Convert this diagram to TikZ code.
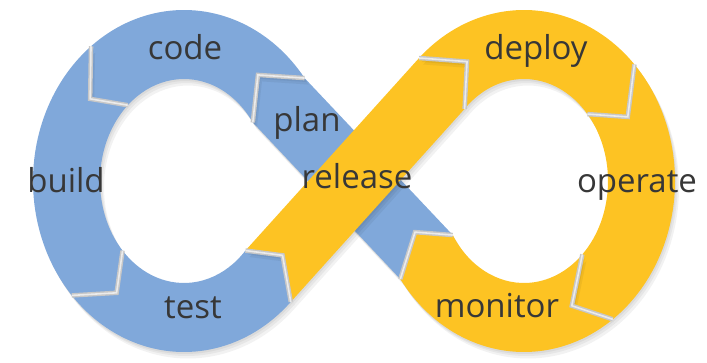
\documentclass[tikz,border=0pt]{standalone}
\usepackage{fontspec}
\setmainfont{Open Sans}
\usepackage{tikz}
\usetikzlibrary{calc}
\definecolor{devblue}{RGB}{128,168,218}
\definecolor{devyellow}{RGB}{253,195,35}
\definecolor{devtext}{RGB}{55,55,55}
\tikzstyle{seg}=[preaction={fill=black, opacity=.05, transform canvas={xshift=1pt, yshift=-2pt}},
                 preaction={fill=black, opacity=.05, transform canvas={xshift=2.5pt, yshift=-4pt}},
                 preaction={fill=black, opacity=.05, transform canvas={xshift=4pt, yshift=-6.5pt}}]
\tikzstyle{seam}=[draw=black!22, line width=4.5pt, line join=miter, postaction={draw=white!92!black, line width=1.6pt}]
\tikzstyle{word}=[text=devtext, font=\fontsize{33}{33}\selectfont, inner sep=0pt, anchor=base]

\begin{document}
\begin{tikzpicture}[x=1pt, y=1pt]
    \useasboundingbox (0,0) rectangle (707,362);
    \coordinate (L) at (184,181);
    \coordinate (R) at (524,181);

    \coordinate (s1o) at ($(L)+(128:151 and 171)$);
    \coordinate (s1a) at ($(L)+(143:117.5 and 136.5)$);
    \coordinate (s1i) at ($(L)+(132:84 and 102)$);
    \coordinate (s2o) at ($(L)+(222:151 and 171)$);
    \coordinate (s2a) at ($(L)+(235:117.5 and 136.5)$);
    \coordinate (s2i) at ($(L)+(223:84 and 102)$);
    \coordinate (s3o) at ($(L)+(315:151 and 171)$);
    \coordinate (s3a) at ($(L)+(327:117.5 and 136.5)$);
    \coordinate (s3i) at ($(L)+(317:84 and 102)$);
    \coordinate (s4o) at ($(L)+(37:151 and 171)$);
    \coordinate (s4a) at ($(L)+(51:117.5 and 136.5)$);
    \coordinate (s4i) at ($(L)+(35:84 and 102)$);

    \coordinate (s5o) at ($(R)+(134:151 and 171)$);
    \coordinate (s5a) at ($(R)+(119:117.5 and 136.5)$);
    \coordinate (s5i) at ($(R)+(135:84 and 102)$);
    \coordinate (s6o) at ($(R)+(43:151 and 171)$);
    \coordinate (s6a) at ($(R)+(28:117.5 and 136.5)$);
    \coordinate (s6i) at ($(R)+(41:84 and 102)$);
    \coordinate (s7o) at ($(R)+(-54:151 and 171)$);
    \coordinate (s7a) at ($(R)+(-66:117.5 and 136.5)$);
    \coordinate (s7i) at ($(R)+(-46:84 and 102)$);
    \coordinate (s8o) at ($(R)+(215:151 and 171)$);
    \coordinate (s8a) at ($(R)+(202:117.5 and 136.5)$);
    \coordinate (s8i) at ($(R)+(212:84 and 102)$);

    % blue half
    \fill[devblue, seg] (s8i) -- (s4o) -- (s4a) -- (s4i) -- (s8o) -- (s8a) -- cycle;
    \fill[devblue, seg] (s4o) arc[start angle=37, end angle=128, x radius=151, y radius=171] -- (s1a) -- (s1i) arc[start angle=132, end angle=35, x radius=84, y radius=102] -- (s4a) -- cycle;
    \fill[devblue, seg] (s1o) arc[start angle=128, end angle=222, x radius=151, y radius=171] -- (s2a) -- (s2i) arc[start angle=223, end angle=132, x radius=84, y radius=102] -- (s1a) -- cycle;
    \fill[devblue, seg] (s2o) arc[start angle=222, end angle=315, x radius=151, y radius=171] -- (s3a) -- (s3i) arc[start angle=317, end angle=223, x radius=84, y radius=102] -- (s2a) -- cycle;

    % yellow half
    \fill[devyellow, seg] (s3i) -- (s5o) -- (s5a) -- (s5i) -- (s3o) -- (s3a) -- cycle;
    \fill[devyellow, seg] (s5o) arc[start angle=134, end angle=43, x radius=151, y radius=171] -- (s6a) -- (s6i) arc[start angle=41, end angle=135, x radius=84, y radius=102] -- (s5a) -- cycle;
    \fill[devyellow, seg] (s6o) arc[start angle=43, end angle=-54, x radius=151, y radius=171] -- (s7a) -- (s7i) arc[start angle=-46, end angle=41, x radius=84, y radius=102] -- (s6a) -- cycle;
    \fill[devyellow, seg] (s7o) arc[start angle=-54, end angle=-145, x radius=151, y radius=171] -- (s8a) -- (s8i) arc[start angle=-148, end angle=-46, x radius=84, y radius=102] -- (s7a) -- cycle;

    \foreach \s in {s1,s2,s3,s4,s5,s6,s7,s8}
        \draw[seam] (\s o) -- (\s a) -- (\s i);

    \node[word] (code) at (185,302) {code};
    \node[word] (build) at (66,169) {build};
    \node[word] (test) at (193,44) {test};
    \node[word] (plan) at (307,230) {plan};
    \node[word] (release) at (357,174) {release};
    \node[word] (deploy) at (536,302) {deploy};
    \node[word] (operate) at (637,169) {operate};
    \node[word] (monitor) at (497,45) {monitor};
\end{tikzpicture}
\end{document}
